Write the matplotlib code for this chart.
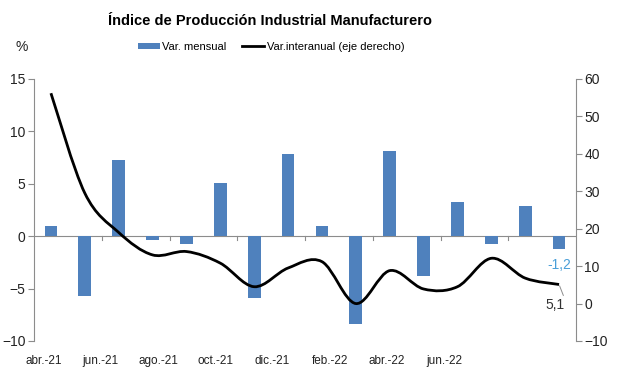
import numpy as np
import matplotlib
matplotlib.use('Agg')
import matplotlib.pyplot as plt
from matplotlib.path import Path
from matplotlib.patches import PathPatch
from matplotlib.lines import Line2D
from matplotlib.patches import Patch

# datos (lectura aproximada de la imagen)
meses = ['abr.-21', 'may.-21', 'jun.-21', 'jul.-21', 'ago.-21', 'sep.-21', 'oct.-21', 'nov.-21',
         'dic.-21', 'ene.-22', 'feb.-22', 'mar.-22', 'abr.-22', 'may.-22', 'jun.-22', 'jul.-22']
var_mensual = [1.0, -5.7, 7.3, -0.4, -0.7, 5.1, -5.9, 7.8, 1.0, -8.4, 8.1, -3.8, 3.3, -0.7, 2.9, -1.2]
var_interanual = [56.2, 29.5, 19.0, 13.0, 13.9, 10.8, 4.5, 9.5, 11.2, 0.0, 8.8, 3.9, 4.5, 12.1, 6.8, 5.1]
etiquetas_x = ['abr.-21', 'jun.-21', 'ago.-21', 'oct.-21', 'dic.-21', 'feb.-22', 'abr.-22', 'jun.-22']

AZUL = '#4F81BD'
GRIS = '#8C8C8C'
FUENTE = 'Liberation Sans'

plt.rcParams['font.family'] = [FUENTE, 'DejaVu Sans']


def curva_suave(xs, ys):
    # segmentos bezier tipo Catmull-Rom (linea suavizada estilo Excel)
    pts = np.column_stack([xs, ys]).astype(float)
    n = len(pts)
    verts = [pts[0]]
    codes = [Path.MOVETO]
    for i in range(n - 1):
        p0 = pts[i - 1] if i > 0 else pts[i]
        p1 = pts[i]
        p2 = pts[i + 1]
        p3 = pts[i + 2] if i + 2 < n else pts[i + 1]
        c1 = p1 + (p2 - p0) / 6.0
        c2 = p2 - (p3 - p1) / 6.0
        verts += [c1, c2, p2]
        codes += [Path.CURVE4] * 3
    return Path(verts, codes)


fig = plt.figure(figsize=(6.17, 3.78), dpi=100)
ax = fig.add_axes([34 / 617, 1 - 341 / 378, 542 / 617, 262 / 378])
ax2 = ax.twinx()

x = np.arange(len(meses))
ax.bar(x, var_mensual, width=0.38, color=AZUL, zorder=2)
ax.axhline(0, color=GRIS, lw=0.8, zorder=1)

ax.set_xlim(-0.5, len(meses) - 0.5)
ax.set_ylim(-10, 15)
ax.set_yticks([-10, -5, 0, 5, 10, 15])
ax2.set_ylim(-10, 60)
ax2.set_yticks([-10, 0, 10, 20, 30, 40, 50, 60])

# marcas del eje de categorias sobre la linea de cero, cada dos meses
for xb in np.arange(1.5, len(meses) - 1, 2):
    ax.plot([xb, xb], [0, -0.35], color=GRIS, lw=0.8, zorder=1)

# etiquetas de fecha (en la imagen van algo mas juntas que las barras)
pos_etiquetas = [-0.22 + 1.69 * k for k in range(len(etiquetas_x))]
ax.set_xticks(pos_etiquetas)
ax.set_xticklabels(etiquetas_x, fontsize=8.5, color='#222222')
ax.tick_params(axis='x', length=0, pad=10)

for a in (ax, ax2):
    for lado in ['top', 'bottom']:
        a.spines[lado].set_visible(False)
    a.spines['left'].set_color(GRIS)
    a.spines['right'].set_color(GRIS)
    a.spines['left'].set_linewidth(0.8)
    a.spines['right'].set_linewidth(0.8)
ax.spines['right'].set_visible(False)
ax2.spines['left'].set_visible(False)
ax.tick_params(axis='y', length=4, color=GRIS, labelsize=10, pad=2, labelcolor='#222222')
ax2.tick_params(axis='y', length=4, color=GRIS, labelsize=10, pad=2, labelcolor='#222222')

ruta = curva_suave(x, var_interanual)
ax2.add_patch(PathPatch(ruta, facecolor='none', edgecolor='black', lw=2.0, zorder=3,
                        transform=ax2.transData))

ax.annotate('-1,2', xy=(x[-1], var_mensual[-1]), xytext=(0, -12), textcoords='offset points',
            ha='center', va='center', fontsize=10, color='#4A9FD8')
ax2.annotate('5,1', xy=(x[-1], var_interanual[-1]), xytext=(-3, -15), textcoords='offset points',
             ha='center', va='center', fontsize=10, color='#333333',
             arrowprops=dict(arrowstyle='-', color=GRIS, lw=0.7, relpos=(1.0, 1.0),
                             shrinkA=0, shrinkB=1))

fig.text(270 / 617, 1 - 21 / 378, 'Índice de Producción Industrial Manufacturero', ha='center', va='center',
         fontsize=10.5, fontweight='bold')
fig.text(22 / 617, 1 - 47 / 378, '%', ha='center', va='center', fontsize=10, color='#222222')

handles = [Patch(facecolor=AZUL, edgecolor='none'), Line2D([], [], color='black', lw=2)]
fig.legend(handles, ['Var. mensual', 'Var.interanual (eje derecho)'], loc='center',
           bbox_to_anchor=(271 / 617, 1 - 47 / 378), ncol=2, frameon=False, fontsize=8,
           handlelength=2.0, handleheight=0.5, handletextpad=0.2, columnspacing=1.4)

fig.savefig('out.png', dpi=100, facecolor='white')
